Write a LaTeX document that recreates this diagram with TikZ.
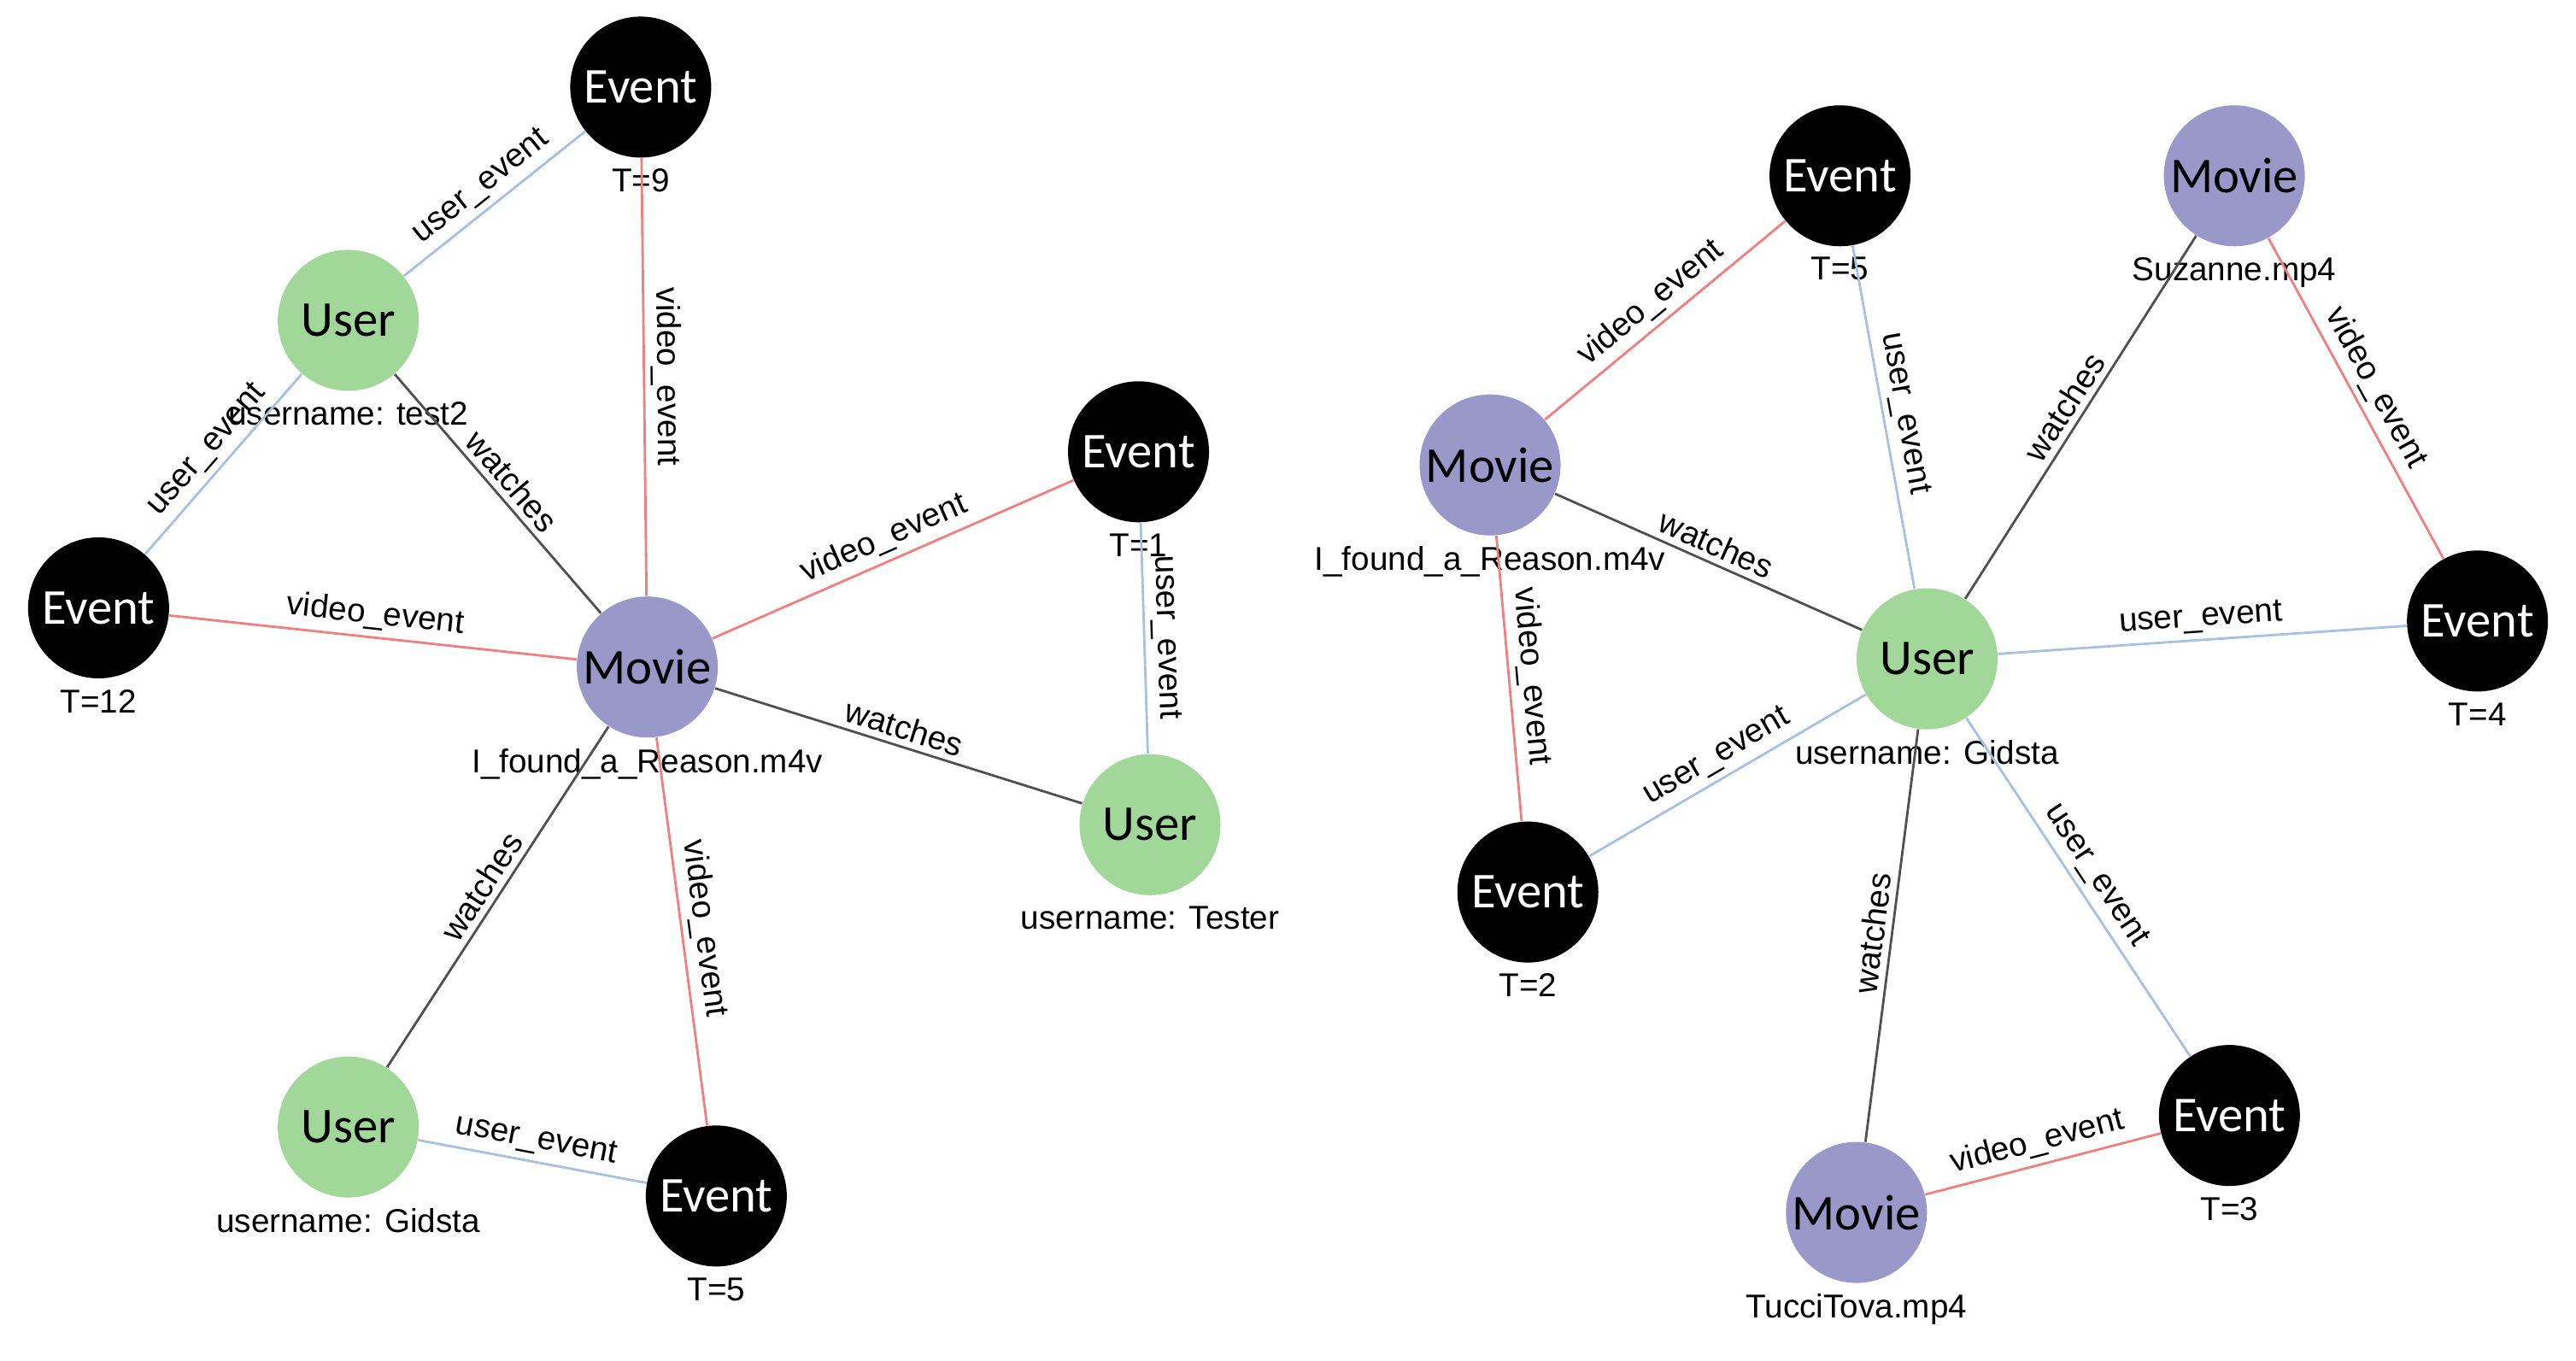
\documentclass[tikz,border=0pt]{standalone}
\usepackage{fontspec}
\setmainfont{Liberation Sans}
\newfontfamily\calibri{Carlito}
\usepackage{xcolor}
\definecolor{moviepurple}{RGB}{154,151,201}
\definecolor{usergreen}{RGB}{161,215,152}
\definecolor{videored}{RGB}{240,128,128}
\definecolor{userblue}{RGB}{168,192,226}
\definecolor{watchgray}{RGB}{80,80,80}
\usepackage{tikz}
\usetikzlibrary{positioning}

\begin{document}
\begin{tikzpicture}[x=0.01923cm,y=-0.01923cm,font=\fontsize{11}{13}\selectfont,
  every node/.style={align=center},
  every label/.style={font=\fontsize{11}{13}\selectfont,text=black},
  base/.style={circle,minimum size=1.65cm,inner sep=0pt,label distance=0pt,font=\calibri\fontsize{16.7}{20}\selectfont},
  event/.style={base,fill=black,text=white},
  user/.style={base,fill=usergreen,text=black},
  movie/.style={base,fill=moviepurple,text=black},
  vid/.style={draw=videored,line width=0.8pt},
  usr/.style={draw=userblue,line width=0.8pt},
  wat/.style={draw=watchgray,line width=0.8pt},
  elab/.style={midway,above,sloped,inner sep=2pt,font=\fontsize{11}{13}\selectfont}]
  \useasboundingbox (0,0) rectangle (1568,828);
  % --- grafo izquierdo ---
  \node[event] (e9)  at (390,53)  [label={below:{T=9}}] {Event};
  \node[user]  (ut2) at (212,195) [label={below:{username: test2}}] {User};
  \node[event] (e12) at (60,370)  [label={below:{T=12}}] {Event};
  \node[movie] (mif) at (394,406) [label={below:{I\_found\_a\_Reason.m4v}}] {Movie};
  \node[event] (e1)  at (693,275) [label={below:{T=1}}] {Event};
  \node[user]  (ute) at (700,502) [label={below:{username: Tester}}] {User};
  \node[user]  (ugl) at (212,686) [label={below:{username: Gidsta}}] {User};
  \node[event] (e5l) at (436,728) [label={below:{T=5}}] {Event};
  \draw[usr] (ut2) -- node[elab] {user\_event} (e9);
  \draw[usr] (e12) -- node[elab] {user\_event} (ut2);
  \draw[wat] (ut2) -- node[elab] {watches} (mif);
  \draw[vid] (e9) -- node[elab] {video\_event} (mif);
  \draw[vid] (e12) -- node[elab] {video\_event} (mif);
  \draw[vid] (mif) -- node[elab] {video\_event} (e1);
  \draw[usr] (e1) -- node[elab] {user\_event} (ute);
  \draw[wat] (mif) -- node[elab] {watches} (ute);
  \draw[wat] (ugl) -- node[elab] {watches} (mif);
  \draw[vid] (mif) -- node[elab] {video\_event} (e5l);
  \draw[usr] (ugl) -- node[elab] {user\_event} (e5l);
  % --- grafo derecho ---
  \node[event] (e5r) at (1120,107) [label={below:{T=5}}] {Event};
  \node[movie] (msz) at (1360,107) [label={below:{Suzanne.mp4}}] {Movie};
  \node[movie] (mfr) at (907,283)  [label={below:{I\_found\_a\_Reason.m4v}}] {Movie};
  \node[user]  (ugr) at (1173,401) [label={below:{username: Gidsta}}] {User};
  \node[event] (e4)  at (1508,378) [label={below:{T=4}}] {Event};
  \node[event] (e2)  at (930,543)  [label={below:{T=2}}] {Event};
  \node[event] (e3)  at (1357,679) [label={below:{T=3}}] {Event};
  \node[movie] (mtt) at (1130,738) [label={below:{TucciTova.mp4}}] {Movie};
  \draw[vid] (mfr) -- node[elab] {video\_event} (e5r);
  \draw[usr] (e5r) -- node[elab] {user\_event} (ugr);
  \draw[wat] (mfr) -- node[elab] {watches} (ugr);
  \draw[wat] (ugr) -- node[elab] {watches} (msz);
  \draw[vid] (msz) -- node[elab] {video\_event} (e4);
  \draw[usr] (ugr) -- node[elab] {user\_event} (e4);
  \draw[vid] (mfr) -- node[elab] {video\_event} (e2);
  \draw[usr] (e2) -- node[elab] {user\_event} (ugr);
  \draw[wat] (mtt) -- node[elab] {watches} (ugr);
  \draw[usr] (ugr) -- node[elab] {user\_event} (e3);
  \draw[vid] (mtt) -- node[elab] {video\_event} (e3);
\end{tikzpicture}
\end{document}
